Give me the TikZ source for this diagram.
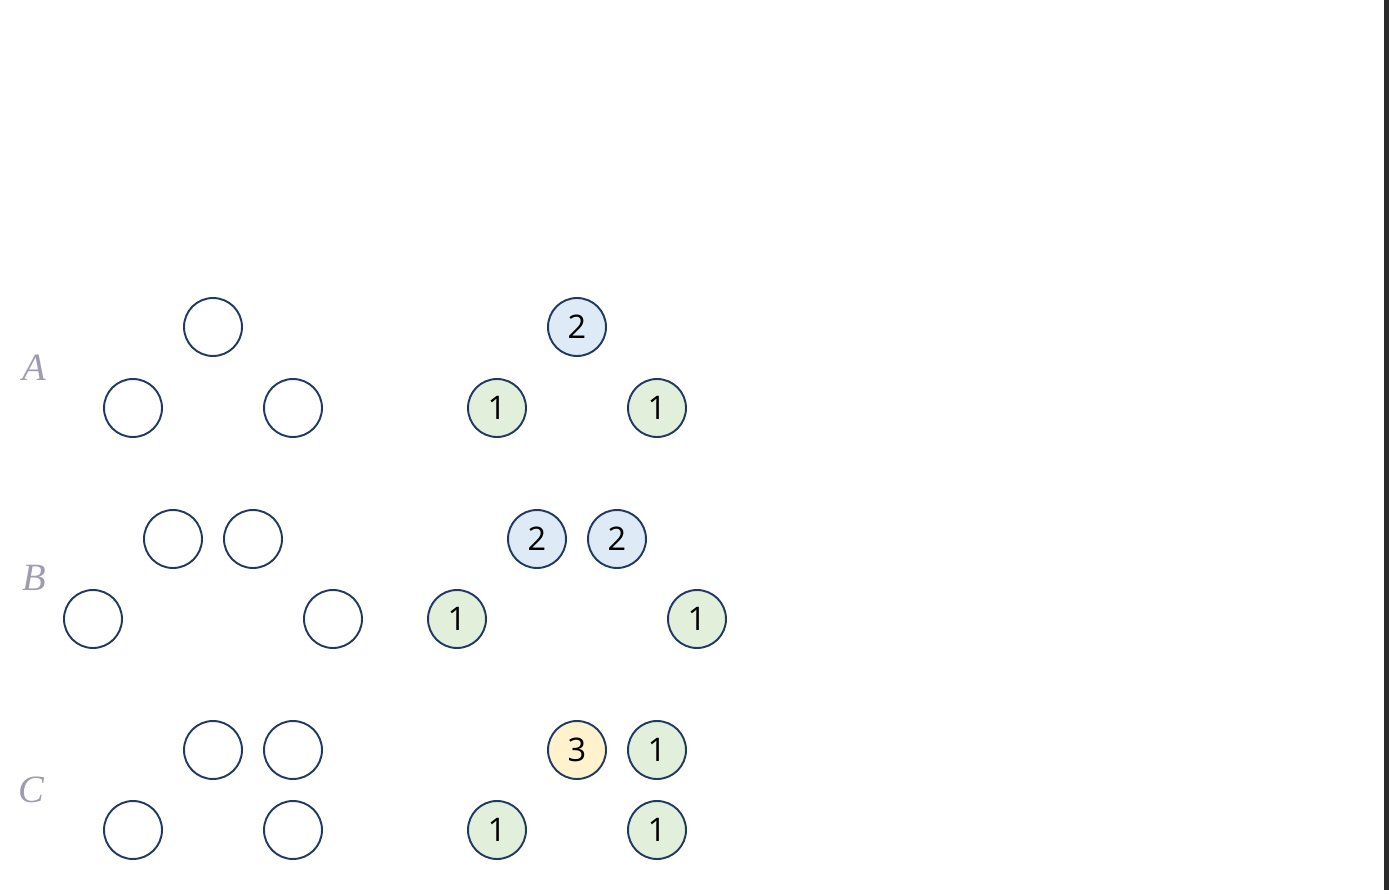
\documentclass[tikz,border=0pt]{standalone}
\usepackage{fontspec}
\setmainfont{Open Sans}
\newfontfamily\labelfont{Liberation Serif}
\definecolor{ringline}{HTML}{1F3864}
\definecolor{fillblue}{HTML}{DEEAF6}
\definecolor{fillgreen}{HTML}{E2EFDA}
\definecolor{fillyellow}{HTML}{FFF2CC}
\definecolor{rowgray}{HTML}{9E9DAF}
\definecolor{bargray}{HTML}{2B2B2B}
\begin{document}
\begin{tikzpicture}[x=0.02cm,y=-0.02cm,
        ring/.style={circle,draw=ringline,line width=1.1pt,minimum size=1.16cm,inner sep=0pt,font=\fontsize{18.5}{18.5}\selectfont},
        two/.style={ring,fill=fillblue},
        one/.style={ring,fill=fillgreen},
        three/.style={ring,fill=fillyellow},
        rowlabel/.style={text=rowgray,font=\labelfont\itshape\fontsize{22}{22}\selectfont}]
        \useasboundingbox (0,0) rectangle (1389,895);
        %bar
        \fill[bargray] (1384,0) rectangle (1389,890);

        %A
        \node[rowlabel] (la) at (34,368) {A};
        \node[ring] (a1) at (213,327) {};
        \node[ring] (a2) at (133,408) {};
        \node[ring] (a3) at (293,408) {};
        \node[two] (ra1) at (577,327) {2};
        \node[one] (ra2) at (497,408) {1};
        \node[one] (ra3) at (657,408) {1};

        %B
        \node[rowlabel] (lb) at (34,578) {B};
        \node[ring] (b1) at (173,539) {};
        \node[ring] (b2) at (253,539) {};
        \node[ring] (b3) at (93,619) {};
        \node[ring] (b4) at (333,619) {};
        \node[two] (rb1) at (537,539) {2};
        \node[two] (rb2) at (617,539) {2};
        \node[one] (rb3) at (457,619) {1};
        \node[one] (rb4) at (697,619) {1};

        %C
        \node[rowlabel] (lc) at (31,790) {C};
        \node[ring] (c1) at (213,750) {};
        \node[ring] (c2) at (293,750) {};
        \node[ring] (c3) at (133,830) {};
        \node[ring] (c4) at (293,830) {};
        \node[three] (rc1) at (577,750) {3};
        \node[one] (rc2) at (657,750) {1};
        \node[one] (rc3) at (497,830) {1};
        \node[one] (rc4) at (657,830) {1};
    \end{tikzpicture}
\end{document}
